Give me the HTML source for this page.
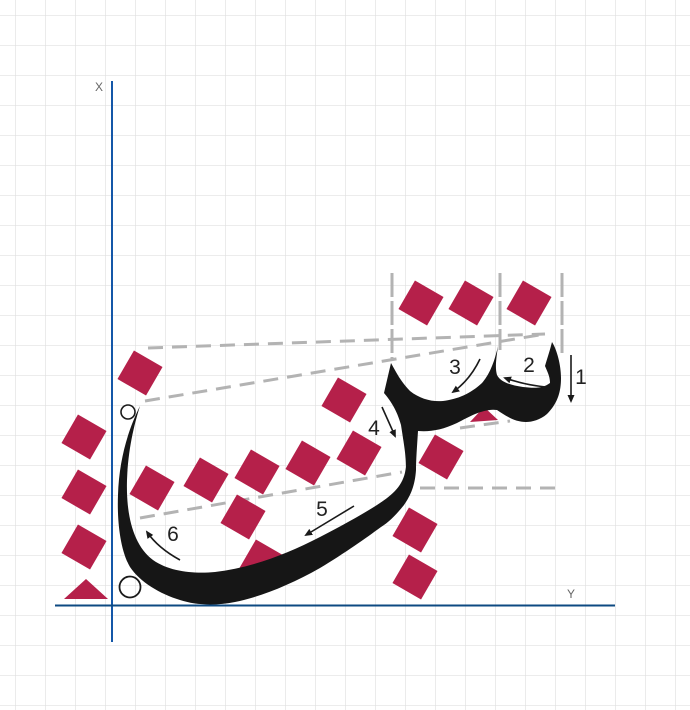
<!DOCTYPE html>
<html><head><meta charset="utf-8"><style>
html,body{margin:0;padding:0;background:#fff;}
svg{display:block;}
text{font-family:"Liberation Sans","DejaVu Sans",sans-serif;}
</style></head><body>
<svg width="690" height="710" viewBox="0 0 690 710" xmlns="http://www.w3.org/2000/svg">
<defs>
<pattern id="g" x="15" y="15" width="30" height="30" patternUnits="userSpaceOnUse">
<path d="M0 0H30M0 0V30" stroke="#e0e0e0" stroke-width="1.3" fill="none"/>
</pattern>
<marker id="ah" markerWidth="8" markerHeight="8" refX="6" refY="4" orient="auto" markerUnits="userSpaceOnUse">
<path d="M0 0.5 L8 4 L0 7.5 Z" fill="#1a1a1a"/>
</marker>
<rect id="d" x="-16.5" y="-16.5" width="33" height="33" fill="#b5204a"/>
</defs>
<rect width="690" height="710" fill="url(#g)"/>

<g stroke="#b3b3b3" stroke-width="3" stroke-dasharray="15 9" fill="none">
<line x1="148" y1="348" x2="545" y2="334"/>
<line x1="145" y1="401" x2="545" y2="334"/>
<line x1="140" y1="518" x2="402" y2="472"/>
<line x1="420" y1="488" x2="562" y2="488"/>
<line x1="460" y1="428" x2="510" y2="421"/>
</g>
<g stroke="#b3b3b3" stroke-width="3" stroke-dasharray="24 4" fill="none">
<line x1="392" y1="273" x2="392" y2="360"/>
<line x1="500" y1="273" x2="500" y2="350"/>
<line x1="562" y1="273" x2="562" y2="355"/>
</g>

<g>
<use href="#d" transform="translate(140,373) rotate(30)"/>
<use href="#d" transform="translate(84,437) rotate(30)"/>
<use href="#d" transform="translate(84,492) rotate(30)"/>
<use href="#d" transform="translate(84,547) rotate(30)"/>
<use href="#d" transform="translate(152,488) rotate(30)"/>
<use href="#d" transform="translate(206,480) rotate(30)"/>
<use href="#d" transform="translate(257,472) rotate(30)"/>
<use href="#d" transform="translate(308,463) rotate(30)"/>
<use href="#d" transform="translate(359,453) rotate(30)"/>
<use href="#d" transform="translate(243,517) rotate(30)"/>
<use href="#d" transform="translate(262,562) rotate(30)"/>
<use href="#d" transform="translate(344,400) rotate(30)"/>
<use href="#d" transform="translate(441,457) rotate(30)"/>
<use href="#d" transform="translate(421,303) rotate(30)"/>
<use href="#d" transform="translate(471,303) rotate(30)"/>
<use href="#d" transform="translate(529,303) rotate(30)"/>
<use href="#d" transform="translate(415,530) rotate(30)"/>
<use href="#d" transform="translate(415,577) rotate(30)"/>
<path d="M64 599 L86 579 L108 599 Z" fill="#b5204a"/>
<path d="M470 422 L484 407 L498 420 Z" fill="#b5204a"/>
</g>

<path fill="#161616" d="
M140 406
C134 425 128 450 127 480
C126 515 133 545 153 560
C170 572 195 574 215 572
C250 568 285 555 320 537
C345 524 365 513 380 503
C395 493 404 484 406 467
C406 455 404 445 401 425
C397 410 390 400 384 393
L391 363
C396 372 401 382 410 391
C420 399 432 402 443 401
C458 399 470 394 482 383
C490 374 495 360 498 346
C496 360 495 368 497 375
C500 381 508 385 523 387
C533 388 542 389 550 383
C550 376 547 371 545 366
C548 356 550 350 552 342
C557 350 561 365 561 378
C561 391 558 403 547 414
C540 420 532 422 526 422
C515 422 506 416 497 410
C485 408 470 416 457 423
C442 430 430 432 418 431
C417 447 416 460 416 470
C415 485 411 495 404 505
C396 515 389 522 381 527
C366 538 345 553 320 568
C290 585 260 597 235 602
C215 606 195 605 180 600
C160 594 140 582 130 567
C120 550 117 520 118 495
C119 460 128 430 140 406 Z"/>

<circle cx="128" cy="412" r="7" fill="none" stroke="#1a1a1a" stroke-width="1.6"/>
<circle cx="130" cy="587" r="10.5" fill="none" stroke="#1a1a1a" stroke-width="1.8"/>

<line x1="112" y1="81" x2="112" y2="642" stroke="#1457a8" stroke-width="2"/>
<line x1="55" y1="605.5" x2="615" y2="605.5" stroke="#0d4a82" stroke-width="2"/>
<text x="99" y="91" font-size="12" fill="#666" text-anchor="middle">X</text>
<text x="571" y="598" font-size="12" fill="#666" text-anchor="middle">Y</text>

<g stroke="#1a1a1a" stroke-width="1.6" fill="none" marker-end="url(#ah)">
<line x1="571" y1="355" x2="571" y2="401"/>
<path d="M546 387 Q525 385 505 378"/>
<path d="M480 359 Q470 380 453 392"/>
<line x1="382" y1="407" x2="395" y2="436"/>
<line x1="354" y1="506" x2="306" y2="535"/>
<path d="M180 560 Q158 548 147 532"/>
</g>
<g font-size="21" fill="#222" text-anchor="middle">
<text x="581" y="384">1</text>
<text x="529" y="372">2</text>
<text x="455" y="374">3</text>
<text x="374" y="435">4</text>
<text x="322" y="516">5</text>
<text x="173" y="541">6</text>
</g>
</svg>
</body></html>
